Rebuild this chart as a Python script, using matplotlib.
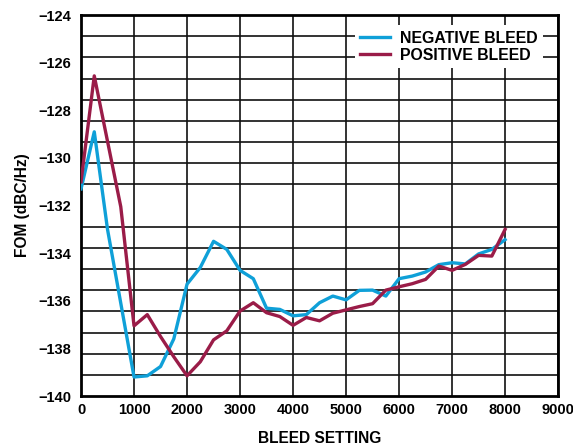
import numpy as np
import matplotlib
matplotlib.use("Agg")
import matplotlib.pyplot as plt

plt.rcParams["font.family"] = ["Liberation Sans", "DejaVu Sans"]
plt.rcParams["font.weight"] = "bold"

bleed_setting = list(range(0, 8001, 250))

negative_bleed = [
    -131.3, -128.9, -133.0, -136.1, -139.2, -139.15, -138.76, -137.6,
    -135.3, -134.6, -133.5, -133.84, -134.72, -135.07, -136.31, -136.36,
    -136.63, -136.58, -136.08, -135.8, -135.96, -135.56, -135.55, -135.8,
    -135.07, -134.96, -134.79, -134.48, -134.4, -134.45, -134.03, -133.84,
    -133.43,
]

positive_bleed = [
    -131.0, -126.55, -129.3, -132.05, -137.05, -136.58, -137.5, -138.35,
    -139.15, -138.56, -137.64, -137.26, -136.43, -136.08, -136.5, -136.66,
    -137.03, -136.7, -136.84, -136.52, -136.38, -136.24, -136.12, -135.55,
    -135.41, -135.28, -135.1, -134.54, -134.72, -134.47, -134.09, -134.12,
    -133.0,
]

blue = "#0fa0d8"
maroon = "#9a1c48"

fig = plt.figure(figsize=(5.73, 4.46), dpi=100)
ax = fig.add_axes([0.1414, 0.112, 0.8326, 0.854])

ax.plot(bleed_setting, negative_bleed, color=blue, lw=2.4, label="NEGATIVE BLEED", zorder=3)
ax.plot(bleed_setting, positive_bleed, color=maroon, lw=2.4, label="POSITIVE BLEED", zorder=3)

ax.set_xlim(0, 9000)
ax.set_ylim(-140, -124)
ax.set_xticks(range(0, 9001, 1000))
ax.set_yticks(range(-140, -123, 2))
# the grid in the original has 18 rows, not matched to the labels
ax.set_yticks(np.linspace(-140, -124, 19), minor=True)

ax.xaxis.grid(True, which="major", color="#111111", lw=1.2)
ax.yaxis.grid(True, which="minor", color="#111111", lw=1.2)
ax.yaxis.grid(False, which="major")
ax.set_axisbelow(True)

ax.tick_params(which="both", length=0)
ax.tick_params(axis="x", pad=5, labelsize=10.5)
ax.tick_params(axis="y", pad=7, labelsize=10.5)
for lab in ax.get_xticklabels() + ax.get_yticklabels():
    lab.set_fontweight("bold")

for sp in ax.spines.values():
    sp.set_linewidth(2.0)
    sp.set_color("black")

ax.set_xlabel("BLEED SETTING", fontsize=11.2, fontweight="bold", labelpad=10)
ax.set_ylabel("FOM (dBC/Hz)", fontsize=11.2, fontweight="bold", labelpad=6)

leg = ax.legend(
    loc="upper right",
    bbox_to_anchor=(0.985, 0.995),
    frameon=True,
    fancybox=False,
    framealpha=1,
    facecolor="white",
    edgecolor="none",
    handlelength=1.9,
    handletextpad=0.6,
    labelspacing=0.15,
    borderpad=0.35,
    prop={"size": 11.4, "weight": "bold"},
)
leg.set_zorder(5)

fig.savefig("out.png", dpi=100)
